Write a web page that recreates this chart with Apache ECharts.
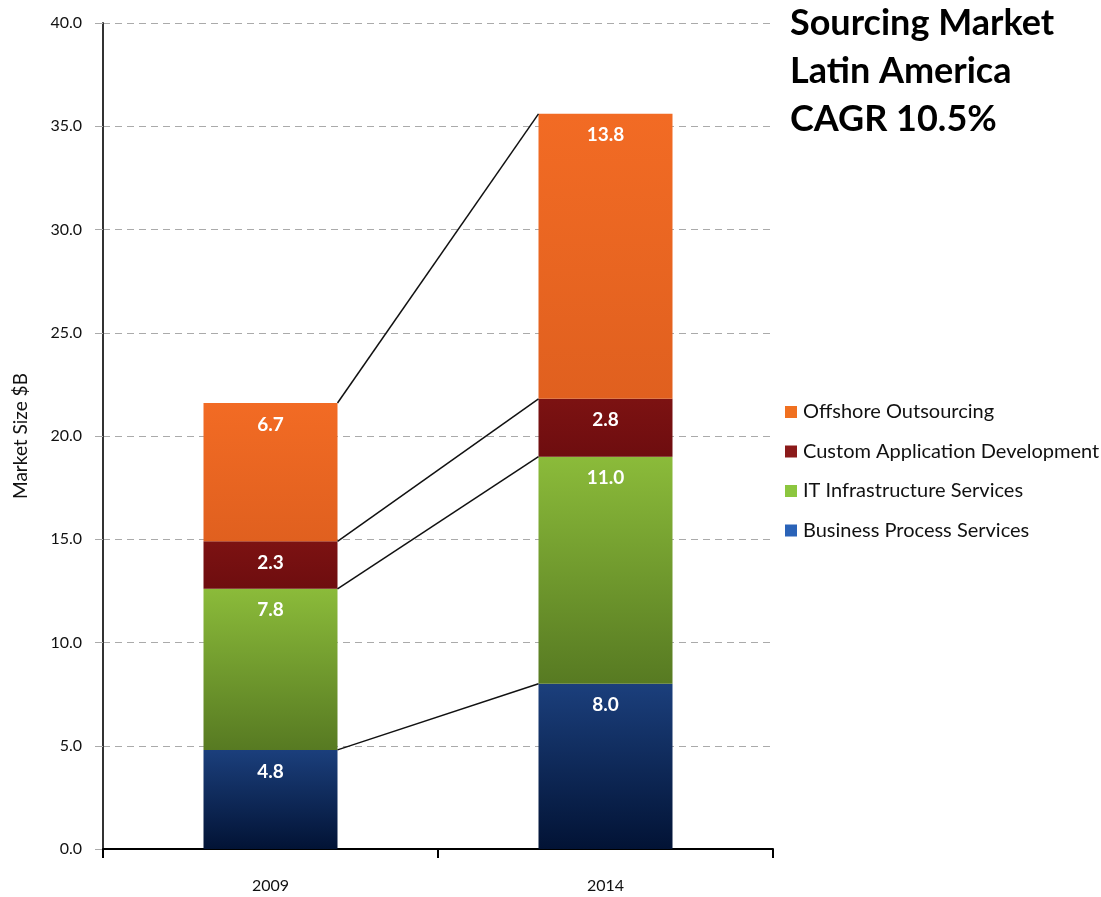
<!DOCTYPE html>
<html>
<head>
<meta charset="utf-8">
<style>
  html, body { margin: 0; padding: 0; background: #fff; }
  #chart { width: 1101px; height: 897px; }
</style>
<script src="https://cdn.jsdelivr.net/npm/echarts@6/dist/echarts.min.js"></script>
</head>
<body>
<div id="chart"></div>
<script>
// Sourcing market size by service line, $B
const categories = ['2009', '2014'];
const businessProcess = [4.8, 8.0];
const itInfrastructure = [7.8, 11.0];
const customApplication = [2.3, 2.8];
const offshoreOutsourcing = [6.7, 13.8];
const yTicks = { min: 0, max: 40, interval: 5 };

const FONT = 'Lato, "Open Sans", sans-serif';
const BAR_WIDTH_RATIO = 0.4;

function grad(top, bottom) {
  return new echarts.graphic.LinearGradient(0, 0, 0, 1, [
    { offset: 0, color: top },
    { offset: 1, color: bottom }
  ]);
}

const seriesDefs = [
  { name: 'Business Process Services', data: businessProcess, fill: grad('#1b3f7c', '#021335'), legend: '#2a63b8' },
  { name: 'IT Infrastructure Services', data: itInfrastructure, fill: grad('#8bbb3a', '#577a22'), legend: '#8cc63f' },
  { name: 'Custom Application Development', data: customApplication, fill: grad('#7c1212', '#6e0d0f'), legend: '#8b1a1a' },
  { name: 'Offshore Outsourcing', data: offshoreOutsourcing, fill: grad('#f26b24', '#e0601f'), legend: '#f07020' }
];

// cumulative segment tops for each year, used for the connector lines
const connectorData = [];
let cum0 = 0, cum1 = 0;
seriesDefs.forEach(s => {
  cum0 += s.data[0];
  cum1 += s.data[1];
  connectorData.push([0, +cum0.toFixed(2), +cum1.toFixed(2)]);
});

const barSeries = seriesDefs.map(s => ({
  name: s.name,
  type: 'bar',
  stack: 'total',
  barWidth: (BAR_WIDTH_RATIO * 100) + '%',
  data: s.data,
  itemStyle: { color: s.fill },
  label: {
    show: true,
    position: 'insideTop',
    distance: 12,
    color: '#ffffff',
    fontFamily: FONT,
    fontWeight: 'bold',
    fontSize: 19,
    formatter: p => p.value.toFixed(1)
  },
  emphasis: { disabled: true }
}));

const connectorSeries = {
  type: 'custom',
  name: 'connectors',
  data: connectorData,
  encode: { x: 0, y: 1 },
  z: 5,
  silent: true,
  renderItem: function (params, api) {
    const v0 = api.value(1);
    const v1 = api.value(2);
    const p0 = api.coord([0, v0]);
    const p1 = api.coord([1, v1]);
    const band = api.size([1, 0])[0];
    const half = band * BAR_WIDTH_RATIO / 2;
    return {
      type: 'line',
      shape: { x1: p0[0] + half, y1: p0[1], x2: p1[0] - half, y2: p1[1] },
      style: { stroke: '#111111', lineWidth: 1.5 }
    };
  }
};

const chart = echarts.init(document.getElementById('chart'), null, { renderer: 'canvas' });
chart.setOption({
  backgroundColor: '#ffffff',
  animation: false,
  title: {
    text: 'Sourcing Market\nLatin America\nCAGR 10.5%',
    left: 785,
    top: -6,
    textStyle: {
      fontFamily: FONT,
      fontWeight: 'bold',
      fontSize: 36,
      lineHeight: 48,
      color: '#000000'
    }
  },
  legend: {
    orient: 'vertical',
    left: 780,
    top: 396,
    itemWidth: 12,
    itemHeight: 12,
    itemGap: 17.5,
    icon: 'rect',
    textStyle: { fontFamily: FONT, fontSize: 20, color: '#111111', padding: [0, 0, 0, 1], lineHeight: 22 },
    data: seriesDefs.slice().reverse().map(s => ({
      name: s.name,
      itemStyle: { color: s.legend }
    }))
  },
  grid: { left: 103, right: 328, top: 23, bottom: 48, containLabel: false },
  xAxis: {
    type: 'category',
    data: categories,
    axisLine: { lineStyle: { color: '#000000', width: 2 } },
    axisTick: { show: true, length: 9, lineStyle: { color: '#000000', width: 2 } },
    axisLabel: { margin: 29, fontFamily: '"Liberation Sans Narrow", Lato, sans-serif', fontSize: 16, color: '#111111' }
  },
  yAxis: {
    type: 'value',
    min: yTicks.min,
    max: yTicks.max,
    interval: yTicks.interval,
    name: 'Market Size $B',
    nameLocation: 'middle',
    nameGap: 73,
    nameTextStyle: { fontFamily: FONT, fontSize: 19, color: '#111111' },
    axisLine: { show: true, lineStyle: { color: '#333333', width: 2 } },
    axisTick: { show: true, length: 8, lineStyle: { color: '#aaaaaa', width: 1 } },
    axisLabel: {
      margin: 21,
      fontFamily: FONT,
      fontSize: 16,
      color: '#111111',
      formatter: v => v.toFixed(1)
    },
    splitLine: { show: true, lineStyle: { color: '#aaaaaa', type: [7, 5], width: 1 } }
  },
  series: [...barSeries, connectorSeries]
});
</script>
</body>
</html>
